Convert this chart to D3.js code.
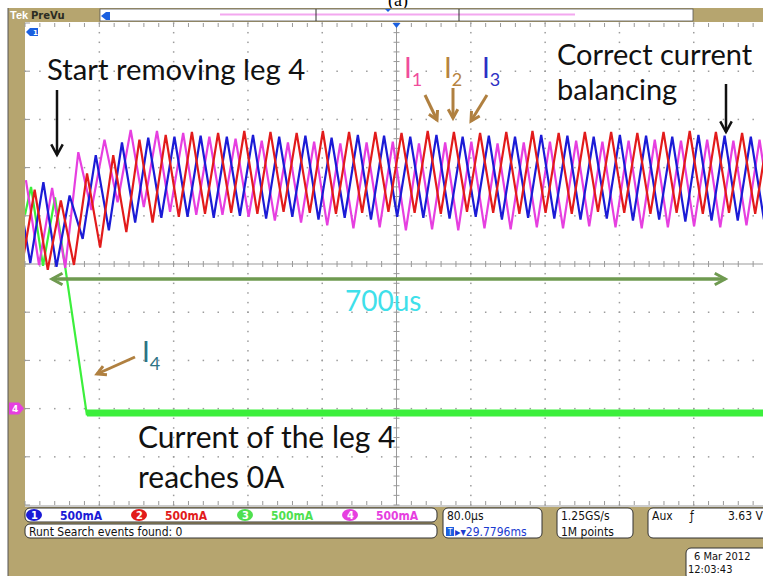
<!DOCTYPE html>
<html><head><meta charset="utf-8">
<script src="https://cdn.jsdelivr.net/npm/d3@7"></script>
<style>body{margin:0;background:#fff;} svg{display:block;}</style>
</head><body>
<svg id="c" width="763" height="576"></svg>
<script>
// ---------------- DATA (time in µs, current in A) ----------------
const timeDomain = [0, 800];      // 80 µs / div, 10 divisions
const currentDomain = [-1, 4];    // 500 mA / div, 10 divisions
const timeTicks = [0, 80, 160, 240, 320, 400, 480, 560, 640, 720, 800];
const currentTicks = [-1, -0.5, 0, 0.5, 1, 1.5, 2, 2.5, 3, 3.5, 4];

// I1 (magenta) vertices: peaks/valleys of the triangular current
const i1 = [[1.0,2.37],[15.1,1.49],[29.2,2.29],[43.3,1.46],[57.4,2.66],[71.5,2.06],[85.6,2.79],[99.7,2.14],
[113.8,2.89],[127.9,2.09],[142.1,2.88],[156.2,2.04],[170.3,2.86],[184.4,2.01],[198.5,2.82],[212.6,2.01],
[226.7,2.80],[240.8,1.99],[254.9,2.78],[269.0,1.95],[283.1,2.76],[297.2,1.93],[311.3,2.77],[325.4,1.90],
[339.5,2.75],[353.6,1.87],[367.8,2.76],[381.9,1.88],[396.0,2.77],[410.1,1.85],[424.2,2.75],[438.3,1.86],
[452.4,2.76],[466.5,1.85],[480.6,2.77],[494.7,1.87],[508.8,2.75],[522.9,1.86],[537.0,2.76],[551.1,1.88],
[565.2,2.77],[579.3,1.87],[593.4,2.78],[607.5,1.89],[621.7,2.77],[635.8,1.88],[649.9,2.78],[664.0,1.87],
[678.1,2.79],[692.2,1.88],[706.3,2.78],[720.4,1.89],[734.5,2.79],[748.6,1.88],[762.7,2.78],[776.8,1.90],
[790.9,2.79],[805.0,1.89]];
// I2 (red)
const i2 = [[-3.7,1.46],[10.4,2.27],[24.5,1.44],[38.6,2.16],[52.7,1.49],[66.8,2.44],[80.9,1.67],[95.0,2.63],
[109.1,1.83],[123.2,2.79],[137.4,1.93],[151.5,2.84],[165.6,1.99],[179.7,2.87],[193.8,2.02],[207.9,2.86],
[222.0,2.03],[236.1,2.88],[250.2,2.02],[264.3,2.87],[278.4,2.04],[292.5,2.86],[306.6,2.03],[320.7,2.88],
[334.8,2.02],[348.9,2.87],[363.0,2.03],[377.2,2.87],[391.3,2.04],[405.4,2.86],[419.5,2.03],[433.6,2.88],
[447.7,2.02],[461.8,2.87],[475.9,2.04],[490.0,2.86],[504.1,2.03],[518.2,2.87],[532.3,2.02],[546.4,2.88],
[560.5,2.03],[574.6,2.86],[588.7,2.02],[602.8,2.87],[616.9,2.04],[631.1,2.87],[645.2,2.03],[659.3,2.86],
[673.4,2.02],[687.5,2.87],[701.6,2.03],[715.7,2.88],[729.8,2.02],[743.9,2.87],[758.0,2.03],[772.1,2.86],
[786.2,2.02],[800.3,2.87]];
// I3 (blue)
const i3 = [[-8.4,2.32],[5.7,1.51],[19.8,2.35],[33.9,1.47],[48.0,2.21],[62.1,1.76],[76.2,2.63],[90.3,1.85],
[104.4,2.76],[118.6,1.93],[132.7,2.81],[146.8,1.98],[160.9,2.82],[175.0,1.99],[189.1,2.83],[203.2,1.98],
[217.3,2.82],[231.4,2.00],[245.5,2.84],[259.6,1.97],[273.7,2.82],[287.8,1.99],[301.9,2.83],[316.0,1.96],
[330.1,2.81],[344.2,1.98],[358.4,2.84],[372.5,1.96],[386.6,2.83],[400.7,1.99],[414.8,2.82],[428.9,1.98],
[443.0,2.84],[457.1,1.97],[471.2,2.82],[485.3,1.99],[499.4,2.83],[513.5,1.96],[527.6,2.82],[541.7,1.98],
[555.8,2.84],[569.9,1.97],[584.0,2.83],[598.1,1.96],[612.3,2.82],[626.4,1.97],[640.5,2.84],[654.6,1.95],
[668.7,2.83],[682.8,1.96],[696.9,2.82],[711.0,1.94],[725.1,2.84],[739.2,1.95],[753.3,2.83],[767.4,1.95],
[781.5,2.82],[795.6,1.96],[809.7,2.83]];
// I4 (green) : removed leg, falls to 0 A
const i4 = [[0,2.01],[6.5,2.30],[19.4,1.48],[32.3,2.19],[66.7,-0.07]];
const i4Flat = [[66.7,-0.045],[800,-0.045]];

const channelNames = ["1","2","3","4"];
const channelScales = ["500mA","500mA","500mA","500mA"];
const channelColors = ["#1b1bd6","#e21b1b","#4fe04f","#e63fe0"];
const span = [29, 754];   // 700 µs marker (µs)

// ---------------- DRAWING ----------------
const svg = d3.select("#c");
const gold = "#b6a56f";
const X0 = 25, X1 = 768, Y0 = 23, Y1 = 505;
const x = d3.scaleLinear().domain(timeDomain).range([X0, X1]);
const y = d3.scaleLinear().domain(currentDomain).range([Y1, Y0]);

// "(a)" caption, partly hidden by the frame
svg.append("text").attr("x",398).attr("y",6).attr("text-anchor","middle")
  .attr("font-family","Liberation Serif").attr("font-size",18).text("(a)");

// frame
svg.append("rect").attr("x",8).attr("y",8).attr("width",755).attr("height",568).attr("fill",gold);
svg.append("line").attr("x1",8).attr("x2",8).attr("y1",8).attr("y2",576).attr("stroke","#555").attr("stroke-width",1);
svg.append("rect").attr("x",X0).attr("y",22).attr("width",763-X0).attr("height",485).attr("fill","#fff");

// header
svg.append("text").attr("x",10).attr("y",19).attr("fill","#fff").attr("font-family","Liberation Sans")
  .attr("font-weight","bold").attr("font-size",11).text("Tek");
svg.append("text").attr("x",31).attr("y",19).attr("fill","#2b2b22").attr("font-family","DejaVu Sans")
  .attr("font-weight","bold").attr("font-size",10).text("PreVu");
svg.append("rect").attr("x",100).attr("y",9).attr("width",593).attr("height",12).attr("fill","#fff")
  .attr("stroke","#555").attr("stroke-width",0.8);
svg.append("line").attr("x1",220).attr("x2",575).attr("y1",14.5).attr("y2",14.5).attr("stroke","#f3a8ef").attr("stroke-width",2);
[316,459].forEach(v=>svg.append("line").attr("x1",v).attr("x2",v).attr("y1",9).attr("y2",21).attr("stroke","#333").attr("stroke-width",1));
svg.append("path").attr("d","M101,16 L106,12 L110,12 L110,20 L106,20 Z").attr("fill","#1b60e0");
svg.append("path").attr("d","M385,9 L391,9 L388,12 Z").attr("fill","#1b60e0");

// grid dots
const gGrid = svg.append("g");
const minorT = d3.range(0, 800.1, 16);
const minorA = d3.range(-1, 4.01, 0.1);
timeTicks.slice(1,-1).forEach(t=>{ if(t===400) return;
  minorA.forEach(a=>gGrid.append("rect").attr("x",x(t)-0.7).attr("y",y(a)-0.7).attr("width",1.5).attr("height",1.5).attr("fill","#9c9c9c"));
});
currentTicks.slice(1,-1).forEach(a=>{ if(a===1.5) return;
  minorT.forEach(t=>gGrid.append("rect").attr("x",x(t)-0.7).attr("y",y(a)-0.7).attr("width",1.5).attr("height",1.5).attr("fill","#9c9c9c"));
});
// centre crosshair with minor ticks
const cx = x(400), cy = y(1.5);
gGrid.append("line").attr("x1",X0).attr("x2",X1).attr("y1",cy).attr("y2",cy).attr("stroke","#999").attr("stroke-width",1);
gGrid.append("line").attr("x1",cx).attr("x2",cx).attr("y1",Y0).attr("y2",Y1).attr("stroke","#999").attr("stroke-width",1);
minorT.forEach(t=>{
  gGrid.append("line").attr("x1",x(t)).attr("x2",x(t)).attr("y1",cy-3).attr("y2",cy+3).attr("stroke","#999");
  gGrid.append("line").attr("x1",x(t)).attr("x2",x(t)).attr("y1",Y0).attr("y2",Y0+4).attr("stroke","#999");
  gGrid.append("line").attr("x1",x(t)).attr("x2",x(t)).attr("y1",Y1-4).attr("y2",Y1).attr("stroke","#999");
});
minorA.forEach(a=>{
  gGrid.append("line").attr("x1",cx-3).attr("x2",cx+3).attr("y1",y(a)).attr("y2",y(a)).attr("stroke","#999");
});
currentTicks.forEach(a=>gGrid.append("line").attr("x1",X0).attr("x2",X0+5).attr("y1",y(a)).attr("y2",y(a)).attr("stroke","#999"));
gGrid.append("line").attr("x1",X0).attr("x2",X1).attr("y1",Y1+1).attr("y2",Y1+1).attr("stroke","#999");

// traces
svg.append("clipPath").attr("id","clip").append("rect").attr("x",X0).attr("y",Y0).attr("width",X1-X0).attr("height",Y1-Y0);
const gT = svg.append("g").attr("clip-path","url(#clip)");
const line = d3.line().x(d=>x(d[0])).y(d=>y(d[1]));
gT.append("path").attr("d",line(i4Flat)).attr("fill","none").attr("stroke","#3cef3c").attr("stroke-width",7);
gT.append("path").attr("d",line(i4)).attr("fill","none").attr("stroke","#3cef3c").attr("stroke-width",2.2);
gT.append("path").attr("d",line(i1)).attr("fill","none").attr("stroke",channelColors[3]).attr("stroke-width",2.2);
gT.append("path").attr("d",line(i3)).attr("fill","none").attr("stroke",channelColors[0]).attr("stroke-width",2.2);
gT.append("path").attr("d",line(i2)).attr("fill","none").attr("stroke",channelColors[1]).attr("stroke-width",2.2);

// markers
svg.append("path").attr("d",`M${cx-4},${Y0} L${cx+4},${Y0} L${cx},${Y0+5} Z`).attr("fill","#1b60e0");
svg.append("path").attr("d","M26,32 L30,28 L38,28 L38,36 L30,36 Z").attr("fill","#1b60e0");
svg.append("text").attr("x",33).attr("y",35).attr("fill","#fff").attr("font-size",7).attr("font-family","DejaVu Sans").attr("font-weight","bold").text("1");
svg.append("path").attr("d",`M9,${y(0)-6} L19,${y(0)-6} L24,${y(0)} L19,${y(0)+6} L9,${y(0)+6} Z`).attr("fill","#e63fe0");
svg.append("text").attr("x",12).attr("y",y(0)+3.5).attr("fill","#fff").attr("font-size",9).attr("font-family","DejaVu Sans").attr("font-weight","bold").text("4");

// annotations
const font = "Lato, 'Open Sans', sans-serif";
function txt(s, xx, yy, size, col){ return svg.append("text").attr("x",xx).attr("y",yy).attr("font-family",font).attr("font-size",size).attr("fill",col).text(s); }
txt("Start removing leg 4", 47, 80, 29.3, "#111");
txt("Correct current", 557, 65, 29, "#111");
txt("balancing", 557, 100, 29, "#111");
txt("Current of the leg 4", 138, 448, 30, "#111");
txt("reaches 0A", 138, 488, 30, "#111");
txt("700us", 345, 311, 28, "#3fe0ea");
function sub(main, s, xx, yy, col){
  const t = svg.append("text").attr("x",xx).attr("y",yy).attr("font-family",font).attr("font-size",28).attr("fill",col);
  t.append("tspan").text(main);
  t.append("tspan").attr("font-size",18).attr("dy",8).text(s);
}
sub("I","1",404,78,"#f04c9c");
sub("I","2",444,78,"#b78340");
sub("I","3",482,78,"#2c2fc4");
sub("I","4",142,362,"#2e7384");

function arrow(x1,y1,x2,y2,col,w,h){
  svg.append("line").attr("x1",x1).attr("y1",y1).attr("x2",x2).attr("y2",y2).attr("stroke",col).attr("stroke-width",w);
  const a = Math.atan2(y2-y1,x2-x1), L=h, sp=0.5;
  const p = `M${x2-L*Math.cos(a-sp)},${y2-L*Math.sin(a-sp)} L${x2},${y2} L${x2-L*Math.cos(a+sp)},${y2-L*Math.sin(a+sp)}`;
  svg.append("path").attr("d",p).attr("fill","none").attr("stroke",col).attr("stroke-width",w).attr("stroke-linejoin","miter");
}
arrow(57,90,57,155,"#111",2.5,12);
arrow(726,84,726,132,"#111",2.5,12);
arrow(425,95,437,120,"#b08040",3,10);
arrow(453,88,453,118,"#b08040",3,10);
arrow(487,95,471,121,"#b08040",3,10);
arrow(135,357,97,374,"#b08040",3,10);
const ay = 279;
arrow(x(span[0])+6,ay,x(span[1]),ay,"#6f9a50",3,12);
arrow(x(span[1])-6,ay,x(span[0]),ay,"#6f9a50",3,12);

// bottom status panel
const bf = "'Liberation Sans Narrow','DejaVu Sans Condensed',sans-serif";
function box(x0,y0,w,h){ svg.append("rect").attr("x",x0).attr("y",y0).attr("width",w).attr("height",h).attr("rx",5).attr("fill","#fff").attr("stroke","#333").attr("stroke-width",1); }
function btxt(s,xx,yy,col,size){ return svg.append("text").attr("x",xx).attr("y",yy).attr("font-family",bf).attr("font-size",size||12).attr("fill",col||"#111").text(s); }
box(25,508,412,14);
const chX = [34, 139, 245, 350];
channelNames.forEach((c,i)=>{
  svg.append("ellipse").attr("cx",chX[i]).attr("cy",515).attr("rx",8).attr("ry",6).attr("fill",channelColors[i]);
  btxt(c,chX[i]-3,519,"#fff",11).attr("font-weight","bold");
  btxt(channelScales[i],chX[i]+26,519.5,channelColors[i],12).attr("font-weight","bold");
});
box(25,524,412,14);
btxt("Runt Search events found: 0",29,535.5,"#111",12);
box(443,508,99,30);
btxt("80.0µs",447,519.5,"#111",12);
svg.append("rect").attr("x",446).attr("y",527).attr("width",8).attr("height",9).attr("fill","#1b60e0");
btxt("T",448,535,"#fff",8);
btxt("▸▾29.7796ms",455,535.5,"#1b3bd0",12);
box(557,508,76,30);
btxt("1.25GS/s",561,519.5,"#111",12);
btxt("1M points",561,535.5,"#111",12);
box(648,508,125,30);
btxt("Aux",652,519.5,"#111",12);
btxt("ƒ",690,519.5,"#111",12);
btxt("3.63 V",728,519.5,"#111",12);
box(686,548,90,32);
btxt("6 Mar  2012",694,560,"#111",11);
btxt("12:03:43",688,573,"#111",11);
</script>
</body></html>
